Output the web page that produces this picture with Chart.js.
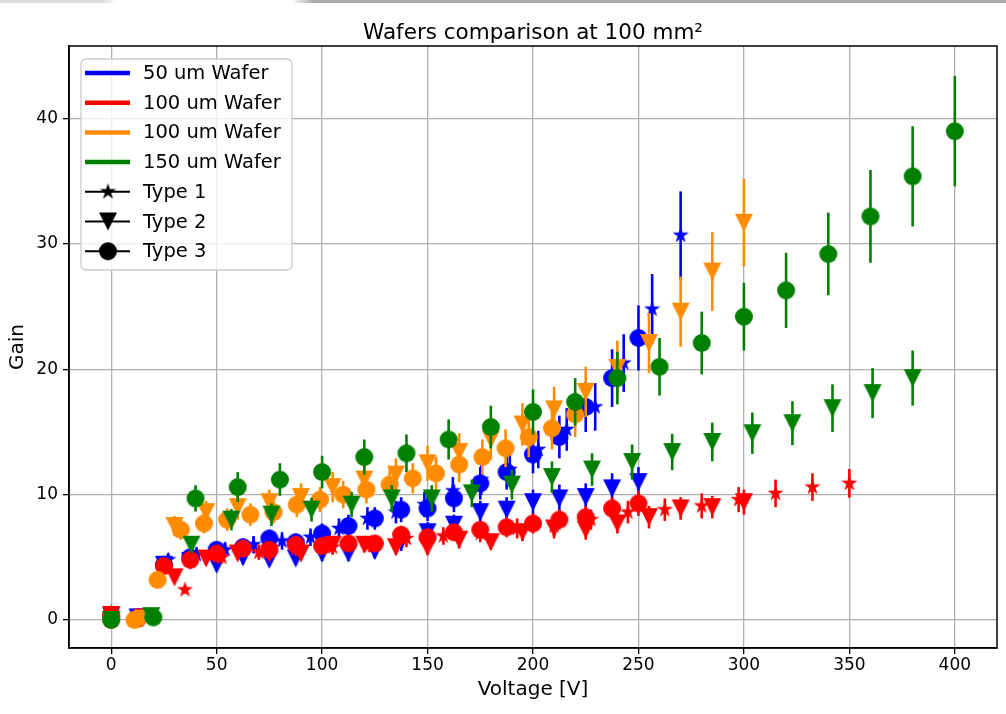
<!DOCTYPE html>
<html>
<head>
<meta charset="utf-8">
<script src="https://cdn.jsdelivr.net/npm/chart.js@4.4.1/dist/chart.umd.min.js"></script>
<style>
  html, body { margin: 0; padding: 0; background: #fff; }
  #wrap { position: relative; width: 1006px; height: 714px; }
  .edge { position: absolute; top: 0; height: 3px; }
</style>
</head>
<body>
<div id="wrap">
  <canvas id="chart" width="1006" height="714"></canvas>
  <div class="edge" style="left:0;width:118px;background:linear-gradient(90deg,#dcdcdc 85%,#fff)"></div>
  <div class="edge" style="left:292px;right:0;background:linear-gradient(90deg,#fff,#aaa 3%)"></div>
</div>
<script>
const FONT = "'DejaVu Sans', 'Liberation Sans', sans-serif";

// 50 um wafer (blue)
const volt50T1 = [0, 13.5, 27, 40.5, 54, 67.5, 81, 94.5, 108, 121.5, 135, 148.5, 162, 175.5, 189, 202.5, 216, 229.5, 243, 256.5, 270];
const gain50T1 = [0.3, 0.3, 4.8, 5.2, 5.6, 6.0, 6.3, 6.6, 7.3, 8.1, 8.6, 9.2, 10.3, 11.2, 12.0, 13.6, 15.2, 17.0, 20.5, 24.8, 30.7];
const err50T1  = [0.1, 0.1, 0.5, 0.6, 0.6, 0.7, 0.7, 0.7, 0.8, 0.9, 0.9, 1.0, 1.1, 1.2, 1.3, 1.5, 1.7, 1.9, 2.3, 2.8, 3.5];
const volt50T2 = [0, 12.5, 25, 37.5, 50, 62.5, 75, 87.5, 100, 112.5, 125, 137.5, 150, 162.5, 175, 187.5, 200, 212.5, 225, 237.5, 250];
const gain50T2 = [0.3, 0.2, 4.4, 4.7, 4.4, 5.0, 4.8, 4.9, 5.3, 5.3, 5.5, 6.2, 7.0, 7.6, 8.6, 8.8, 9.4, 9.7, 9.8, 10.5, 11.0];
const err50T2  = [0.1, 0.1, 0.5, 0.5, 0.5, 0.6, 0.5, 0.5, 0.6, 0.6, 0.6, 0.7, 0.8, 0.8, 0.9, 1.0, 1.0, 1.1, 1.1, 1.2, 1.2];
const volt50T3 = [0, 12.5, 25, 37.5, 50, 62.5, 75, 87.5, 100, 112.5, 125, 137.5, 150, 162.5, 175, 187.5, 200, 212.5, 225, 237.5, 250];
const gain50T3 = [0.2, 0.2, 4.4, 5.0, 5.6, 5.8, 6.5, 6.2, 6.9, 7.5, 8.1, 8.8, 8.9, 9.7, 10.9, 11.8, 13.2, 14.6, 17.0, 19.3, 22.5];
const err50T3  = [0.1, 0.1, 0.5, 0.6, 0.6, 0.7, 0.7, 0.7, 0.8, 0.9, 0.9, 1.0, 1.0, 1.1, 1.3, 1.4, 1.5, 1.7, 2.0, 2.3, 2.6];

// 100 um wafer (red)
const volt100T1 = [0, 17.5, 35, 52.5, 70, 87.5, 105, 122.5, 140, 157.5, 175, 192.5, 210, 227.5, 245, 262.5, 280, 297.5, 315, 332.5, 350];
const gain100T1 = [0.6, 0.3, 2.4, 5.0, 5.4, 5.7, 5.8, 6.0, 6.5, 6.7, 6.9, 7.3, 7.5, 8.0, 8.6, 8.8, 9.1, 9.6, 10.1, 10.6, 10.9];
const err100T1  = [0.1, 0.1, 0.3, 0.5, 0.6, 0.6, 0.6, 0.6, 0.7, 0.7, 0.7, 0.8, 0.8, 0.8, 0.9, 0.9, 1.0, 1.0, 1.1, 1.1, 1.15];
const volt100T2 = [0, 15, 30, 45, 60, 75, 90, 105, 120, 135, 150, 165, 180, 195, 210, 225, 240, 255, 270, 285, 300];
const gain100T2 = [0.4, 0.2, 3.4, 4.9, 5.3, 5.3, 5.3, 6.0, 6.0, 5.8, 5.8, 6.4, 6.2, 7.0, 7.3, 7.2, 7.7, 8.2, 8.9, 9.0, 9.4];
const err100T2  = [0.1, 0.1, 0.4, 0.5, 0.5, 0.5, 0.5, 0.6, 0.6, 0.6, 0.6, 0.7, 0.6, 0.7, 0.8, 0.8, 0.8, 0.9, 0.9, 0.9, 1.0];
const volt100T3 = [0, 12.5, 25, 37.5, 50, 62.5, 75, 87.5, 100, 112.5, 125, 137.5, 150, 162.5, 175, 187.5, 200, 212.5, 225, 237.5, 250];
const gain100T3 = [0.4, 0.1, 4.3, 4.8, 5.3, 5.7, 5.6, 6.0, 5.9, 6.1, 6.1, 6.8, 6.6, 7.0, 7.2, 7.4, 7.7, 8.0, 8.2, 8.9, 9.3];
const err100T3  = [0.1, 0.1, 0.5, 0.5, 0.6, 0.6, 0.6, 0.6, 0.6, 0.6, 0.6, 0.7, 0.7, 0.7, 0.7, 0.8, 0.8, 0.8, 0.9, 0.9, 1.0];

// second 100 um wafer (orange)
const volt100bT2 = [0, 15, 30, 45, 60, 75, 90, 105, 120, 135, 150, 165, 180, 195, 210, 225, 240, 255, 270, 285, 300];
const gain100bT2 = [0.0, 0.1, 7.5, 8.6, 9.0, 9.4, 9.8, 10.6, 11.2, 11.6, 12.5, 13.4, 14.4, 15.6, 16.8, 18.2, 20.1, 22.1, 24.6, 27.8, 31.7];
const err100bT2  = [0.1, 0.1, 0.8, 0.9, 1.0, 1.0, 1.1, 1.2, 1.2, 1.3, 1.4, 1.5, 1.6, 1.7, 1.8, 2.0, 2.2, 2.4, 2.8, 3.15, 3.5];
const volt100bT3 = [0, 11, 22, 33, 44, 55, 66, 77, 88, 99, 110, 121, 132, 143, 154, 165, 176, 187, 198, 209, 220];
const gain100bT3 = [0.0, 0.0, 3.2, 7.2, 7.7, 8.0, 8.4, 8.6, 9.2, 9.6, 10.0, 10.4, 10.8, 11.3, 11.7, 12.4, 13.0, 13.7, 14.6, 15.3, 16.4];
const err100bT3  = [0.1, 0.1, 0.4, 0.8, 0.8, 0.9, 0.9, 0.9, 1.0, 1.0, 1.1, 1.1, 1.2, 1.2, 1.3, 1.4, 1.4, 1.5, 1.6, 1.7, 1.8];

// 150 um wafer (green)
const volt150T2 = [0, 19, 38, 57, 76, 95, 114, 133, 152, 171, 190, 209, 228, 247, 266, 285, 304, 323, 342, 361, 380];
const gain150T2 = [0.0, 0.3, 6.0, 8.0, 8.4, 8.8, 9.2, 9.7, 9.7, 10.1, 10.8, 11.4, 12.0, 12.6, 13.4, 14.2, 14.9, 15.7, 16.9, 18.1, 19.3];
const err150T2  = [0.1, 0.1, 0.65, 0.85, 0.9, 0.95, 1.0, 1.05, 1.05, 1.1, 1.2, 1.25, 1.3, 1.4, 1.45, 1.55, 1.65, 1.75, 1.9, 2.0, 2.2];
const volt150T3 = [0, 20, 40, 60, 80, 100, 120, 140, 160, 180, 200, 220, 240, 260, 280, 300, 320, 340, 360, 380, 400];
const gain150T3 = [0.0, 0.2, 9.7, 10.6, 11.2, 11.8, 13.0, 13.3, 14.4, 15.4, 16.6, 17.4, 19.3, 20.2, 22.1, 24.2, 26.3, 29.2, 32.2, 35.4, 39.0];
const err150T3  = [0.1, 0.1, 1.05, 1.2, 1.3, 1.3, 1.4, 1.5, 1.6, 1.7, 1.8, 1.9, 2.1, 2.3, 2.5, 2.7, 3.0, 3.3, 3.7, 4.0, 4.4];

const xTicks = [0, 50, 100, 150, 200, 250, 300, 350, 400];
const yTicks = [0, 10, 20, 30, 40];

const waferLabels = ['50 um Wafer', '100 um Wafer', '100 um Wafer', '150 um Wafer'];
const waferColors = ['#0000ff', '#ff0000', '#ff8c00', '#008000'];
const typeLabels = ['Type 1', 'Type 2', 'Type 3'];
const typeShapes = ['star', 'tri', 'circle'];
const SHAPE_SIZE = { star: 17, tri: 18, circle: 18 };

// filled marker drawn once into a small canvas, used as pointStyle
function makeMarker(shape, color, size) {
  const c = document.createElement('canvas');
  c.width = c.height = size + 4;
  const g = c.getContext('2d');
  const m = c.width / 2, r = size / 2;
  g.fillStyle = color;
  g.beginPath();
  if (shape === 'circle') {
    g.arc(m, m, r, 0, Math.PI * 2);
  } else if (shape === 'tri') {
    g.moveTo(m - r, m - r);
    g.lineTo(m + r, m - r);
    g.lineTo(m, m + r);
    g.closePath();
  } else {
    for (let k = 0; k < 10; k++) {
      const rr = k % 2 ? r * 0.382 : r;
      const a = -Math.PI / 2 + k * Math.PI / 5;
      if (k) g.lineTo(m + rr * Math.cos(a), m + rr * Math.sin(a));
      else g.moveTo(m + rr * Math.cos(a), m + rr * Math.sin(a));
    }
    g.closePath();
  }
  g.fill();
  return c;
}

// wafer index, type index, x, y, errors  (plot order = draw order)
const series = [
  [0, 0, volt50T1, gain50T1, err50T1],
  [0, 1, volt50T2, gain50T2, err50T2],
  [0, 2, volt50T3, gain50T3, err50T3],
  [1, 0, volt100T1, gain100T1, err100T1],
  [1, 1, volt100T2, gain100T2, err100T2],
  [1, 2, volt100T3, gain100T3, err100T3],
  [2, 1, volt100bT2, gain100bT2, err100bT2],
  [2, 2, volt100bT3, gain100bT3, err100bT3],
  [3, 1, volt150T2, gain150T2, err150T2],
  [3, 2, volt150T3, gain150T3, err150T3]
];

const datasets = series.map(([w, t, xs, ys, es], i) => ({
  label: waferLabels[w] + ' ' + typeLabels[t],
  data: xs.map((x, k) => ({ x: x, y: ys[k] })),
  errors: es,
  errColor: waferColors[w],
  pointStyle: makeMarker(typeShapes[t], waferColors[w], SHAPE_SIZE[typeShapes[t]]),
  pointRadius: 8,
  showLine: false,
  order: series.length - i
}));

// vertical error bars, drawn just under each dataset's own markers
const errorBars = {
  id: 'errorBars',
  beforeDatasetDraw(chart, args) {
    const ds = chart.data.datasets[args.index];
    const xs = chart.scales.x, ys = chart.scales.y, ctx = chart.ctx, a = chart.chartArea;
    ctx.save();
    ctx.beginPath();
    ctx.rect(a.left, a.top, a.right - a.left, a.bottom - a.top);
    ctx.clip();
    ctx.strokeStyle = ds.errColor;
    ctx.lineWidth = 2.6;
    ds.data.forEach((p, k) => {
      const px = xs.getPixelForValue(p.x);
      ctx.beginPath();
      ctx.moveTo(px, ys.getPixelForValue(p.y - ds.errors[k]));
      ctx.lineTo(px, ys.getPixelForValue(p.y + ds.errors[k]));
      ctx.stroke();
    });
    ctx.restore();
  }
};

// frame, title and the two-part legend
const decorations = {
  id: 'decorations',
  afterDraw(chart) {
    const ctx = chart.ctx, a = chart.chartArea;
    ctx.save();
    ctx.strokeStyle = '#000';
    ctx.lineWidth = 1.5;
    ctx.strokeRect(a.left, a.top, a.right - a.left, a.bottom - a.top);

    ctx.fillStyle = '#000';
    ctx.font = '21.5px ' + FONT;
    ctx.textAlign = 'center';
    ctx.textBaseline = 'middle';
    ctx.fillText('Wafers comparison at 100 mm\u00b2', (a.left + a.right) / 2, 33);

    const x0 = a.left + 12, y0 = a.top + 13;
    ctx.fillStyle = 'rgba(255,255,255,0.8)';
    ctx.strokeStyle = '#cccccc';
    ctx.lineWidth = 1.3;
    ctx.beginPath();
    ctx.roundRect(x0, y0, 211, 211, 5);
    ctx.fill();
    ctx.stroke();

    ctx.font = '19.5px ' + FONT;
    ctx.textAlign = 'left';
    const rowY = k => y0 + 14 + k * 29.7;
    waferLabels.forEach((lab, k) => {
      ctx.strokeStyle = waferColors[k];
      ctx.lineWidth = 4.5;
      ctx.beginPath();
      ctx.moveTo(x0 + 4, rowY(k));
      ctx.lineTo(x0 + 49, rowY(k));
      ctx.stroke();
      ctx.fillStyle = '#000';
      ctx.fillText(lab, x0 + 62, rowY(k) + 1);
    });
    typeLabels.forEach((lab, k) => {
      const y = rowY(k + 4);
      ctx.strokeStyle = '#000';
      ctx.lineWidth = 2;
      ctx.beginPath();
      ctx.moveTo(x0 + 4, y);
      ctx.lineTo(x0 + 49, y);
      ctx.stroke();
      const mk = makeMarker(typeShapes[k], '#000', SHAPE_SIZE[typeShapes[k]]);
      ctx.drawImage(mk, x0 + 27 - mk.width / 2, y - mk.height / 2);
      ctx.fillStyle = '#000';
      ctx.fillText(lab, x0 + 62, y + 1);
    });
    ctx.restore();
  }
};

const gridOpts = { color: '#b0b0b0', lineWidth: 1.3, tickLength: 6, tickColor: '#000', tickWidth: 1.3 };

new Chart(document.getElementById('chart'), {
  type: 'scatter',
  data: { datasets: datasets },
  options: {
    responsive: false,
    animation: false,
    events: [],
    layout: { padding: { top: 46, right: 7, left: 0, bottom: 0 } },
    plugins: { legend: { display: false }, tooltip: { enabled: false }, title: { display: false } },
    scales: {
      x: {
        type: 'linear', min: -20, max: 420,
        afterBuildTicks: s => { s.ticks = xTicks.map(v => ({ value: v })); },
        afterFit: s => { s.height = 66; },
        grid: gridOpts,
        border: { color: '#000', width: 1.5 },
        ticks: { color: '#000', font: { family: FONT, size: 17 }, padding: 1, maxRotation: 0 },
        title: { display: true, text: 'Voltage [V]', color: '#000', font: { family: FONT, size: 20 }, padding: { top: 0, bottom: 12 } }
      },
      y: {
        type: 'linear', min: -2.24, max: 45.8,
        afterBuildTicks: s => { s.ticks = yTicks.map(v => ({ value: v })); },
        afterFit: s => { s.width = 69; },
        grid: gridOpts,
        border: { color: '#000', width: 1.5 },
        ticks: { color: '#000', font: { family: FONT, size: 17 }, padding: 5 },
        title: { display: true, text: 'Gain', color: '#000', font: { family: FONT, size: 20 }, padding: { top: 6, bottom: 0 } }
      }
    }
  },
  plugins: [errorBars, decorations]
});
</script>
</body>
</html>
